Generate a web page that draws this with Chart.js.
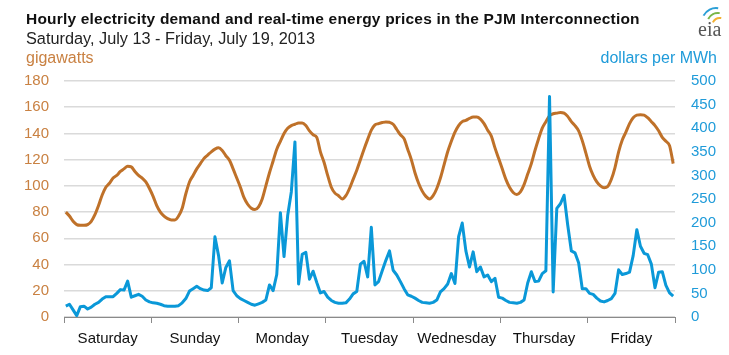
<!DOCTYPE html>
<html>
<head>
<meta charset="utf-8">
<script src="https://cdn.jsdelivr.net/npm/chart.js@4/dist/chart.umd.min.js"></script>
<style>
  html, body { margin: 0; padding: 0; background: #fff; }
  #wrap { width: 729px; height: 355px; position: relative; }
</style>
</head>
<body>
<div id="wrap"><canvas id="c" width="729" height="355"></canvas></div>
<script>
// ---- Data ----
const days = ["Saturday", "Sunday", "Monday", "Tuesday", "Wednesday", "Thursday", "Friday"];

// Hourly demand, gigawatts (Sat Jul 13 hour 0 ... Fri Jul 19 hour 23)
const demandGW = [
  80, 77, 73, 70.5, 70, 70, 70.5, 73, 78, 85, 93, 99, 102, 106, 108, 111, 113, 115, 114.5, 111, 108, 106, 103, 98,
  92, 85, 80, 77, 75, 74, 74, 77, 83, 94, 103, 108, 113, 117, 121, 123.5, 126, 128, 129, 127, 123, 119.5, 113, 106,
  99, 91, 86, 83, 82, 84, 90, 100, 110, 119, 128, 134, 140, 144, 146, 147, 148, 148, 146, 142, 139, 137, 126, 118,
  108, 99, 94.5, 92.5, 90, 92.5, 98, 105, 112, 120, 128, 135.5, 142.5, 146.5, 147.5, 148.3, 148.8, 148.5, 147, 143, 139, 136,
  128, 120, 110, 102, 96, 92, 90, 92.5, 98, 106, 116, 126, 134, 141, 146, 149, 150, 151.5, 152.5, 152.5, 151, 147.5, 142.5, 138,
  129, 121, 113, 105, 99, 95, 93.5, 95.5, 101, 109, 117, 127, 136, 144, 149, 153.5, 155, 155.5, 156, 155.5, 153, 149, 146, 142,
  134.5, 125, 115, 108, 103, 100, 98.5, 99.5, 105, 114, 126, 135, 141, 147.5, 152, 154, 154.3, 154, 152, 149, 146, 142, 137, 134,
  130.7, 117
];

// Hourly real-time price, dollars per MWh
const priceUSD = [
  23, 27, 15, 3, 22, 23, 17, 21, 27, 31, 38, 43, 43, 43, 50, 58, 57, 76, 42, 45, 48, 44, 36, 32,
  30, 29, 27, 24, 23, 23, 23, 24, 30, 39, 55, 60, 65, 60, 57, 56, 62, 170, 130, 72, 105, 119, 56, 45,
  39, 35, 31, 27, 25, 28, 31, 36, 68, 56, 90, 221, 128, 215, 265, 371, 70, 133, 137, 80, 97, 73, 51, 54,
  42, 35, 31, 29, 29, 30, 38, 49, 54, 112, 118, 85, 190, 68, 75, 98, 120, 140, 99, 89, 75, 60, 47, 44,
  40, 35, 31, 30, 29, 31, 36, 53, 60, 70, 92, 71, 170, 199, 140, 106, 138, 96, 106, 85, 89, 75, 82, 42,
  40, 35, 31, 30, 29, 31, 36, 72, 96, 75, 76, 92, 98, 467, 53, 230, 240, 258, 195, 140, 136, 115, 60, 60,
  50, 48, 40, 34, 32, 35, 39, 50, 100, 90, 92, 95, 130, 185, 150, 135, 132, 112, 62, 95, 96, 67, 51, 44
];

const hours = demandGW.map((_, i) => i);

const leftTicks = [0, 20, 40, 60, 80, 100, 120, 140, 160, 180];
const rightTicks = [0, 50, 100, 150, 200, 250, 300, 350, 400, 450, 500];

const titleText = "Hourly electricity demand and real-time energy prices in the PJM Interconnection";
const subtitleText = "Saturday, July 13 - Friday, July 19, 2013";
const leftUnit = "gigawatts";
const rightUnit = "dollars per MWh";

// ---- Styles ----
const ORANGE = "#bf7129";
const ORANGE_TXT = "#c98142";
const BLUE = "#0a98d8";
const BLUE_TXT = "#1f9bd9";
const FONT = "'Liberation Sans', Arial, sans-serif";

const textPlugin = {
  id: "texts",
  afterDraw(chart) {
    const ctx = chart.ctx;
    ctx.save();
    ctx.textBaseline = "middle";
    ctx.fillStyle = "#111";
    ctx.font = "bold 15.5px " + FONT;
    ctx.textAlign = "left";
    try { ctx.letterSpacing = "0.2px"; } catch (e) {}
    ctx.fillText(titleText, 26, 20);
    try { ctx.letterSpacing = "0px"; } catch (e) {}
    ctx.font = "16.3px " + FONT;
    ctx.fillStyle = "#222";
    ctx.fillText(subtitleText, 26, 40);
    ctx.font = "16px " + FONT;
    ctx.fillStyle = ORANGE_TXT;
    ctx.fillText(leftUnit, 26, 59);
    ctx.fillStyle = BLUE_TXT;
    ctx.textAlign = "right";
    ctx.fillText(rightUnit, 717, 59);
    // eia logo
    ctx.lineWidth = 2;
    ctx.strokeStyle = "#2b9fd6";
    ctx.beginPath(); ctx.arc(716, 22, 14, Math.PI * 1.15, Math.PI * 1.55); ctx.stroke();
    ctx.strokeStyle = "#7ab648";
    ctx.beginPath(); ctx.arc(718, 24, 11, Math.PI * 1.15, Math.PI * 1.55); ctx.stroke();
    ctx.strokeStyle = "#f2b134";
    ctx.beginPath(); ctx.arc(720, 26, 8, Math.PI * 1.15, Math.PI * 1.55); ctx.stroke();
    ctx.fillStyle = "#555";
    ctx.font = "20px 'Liberation Serif', 'DejaVu Serif', serif";
    ctx.textAlign = "left";
    ctx.fillText("eia", 698, 31);
    ctx.restore();
  }
};

new Chart(document.getElementById("c"), {
  type: "line",
  data: {
    labels: hours,
    datasets: [
      {
        label: "price",
        data: priceUSD,
        yAxisID: "y1",
        borderColor: BLUE,
        borderWidth: 3,
        pointRadius: 0,
        tension: 0,
        borderJoinStyle: "round",
        order: 1
      },
      {
        label: "demand",
        data: demandGW,
        yAxisID: "y",
        borderColor: ORANGE,
        borderWidth: 3,
        pointRadius: 0,
        tension: 0.35,
        cubicInterpolationMode: "monotone",
        order: 2
      }
    ]
  },
  options: {
    responsive: false,
    devicePixelRatio: 1,
    animation: false,
    layout: { padding: { top: 81, left: 0, right: 0, bottom: 0 } },
    plugins: { legend: { display: false }, tooltip: { enabled: false } },
    scales: {
      x: {
        type: "linear",
        min: -0.5,
        max: 167.5,
        afterBuildTicks(scale) {
          const t = [];
          for (let k = 0; k <= days.length * 2; k++) t.push({ value: -0.5 + k * 12 });
          scale.ticks = t;
        },
        afterFit(scale) { scale.height = 38; },
        ticks: {
          autoSkip: false,
          maxRotation: 0,
          padding: 7,
          color: "#111",
          font: { family: FONT, size: 15 },
          callback(value, index) { return index % 2 === 1 ? days[(index - 1) / 2] : ""; }
        },
        grid: {
          drawOnChartArea: false,
          drawTicks: true,
          tickLength: 6,
          tickWidth: 1,
          tickColor: (c) => (c.index % 2 === 1 ? "rgba(0,0,0,0)" : "#8a8a8a")
        },
        border: { display: true, color: "#8a8a8a", width: 1 }
      },
      y: {
        position: "left",
        min: 0,
        max: 180,
        afterBuildTicks(scale) { scale.ticks = leftTicks.map(v => ({ value: v })); },
        afterFit(scale) { scale.width = 64; },
        ticks: {
          padding: 15,
          color: ORANGE_TXT,
          font: { family: FONT, size: 15 }
        },
        grid: { color: "#dadada", lineWidth: 1.5, drawTicks: false },
        border: { display: false }
      },
      y1: {
        position: "right",
        min: 0,
        max: 500,
        afterBuildTicks(scale) { scale.ticks = rightTicks.map(v => ({ value: v })); },
        afterFit(scale) { scale.width = 54; },
        ticks: {
          padding: 16,
          color: BLUE_TXT,
          font: { family: FONT, size: 15 }
        },
        grid: { drawOnChartArea: false, drawTicks: false },
        border: { display: false }
      }
    }
  },
  plugins: [textPlugin]
});
</script>
</body>
</html>
